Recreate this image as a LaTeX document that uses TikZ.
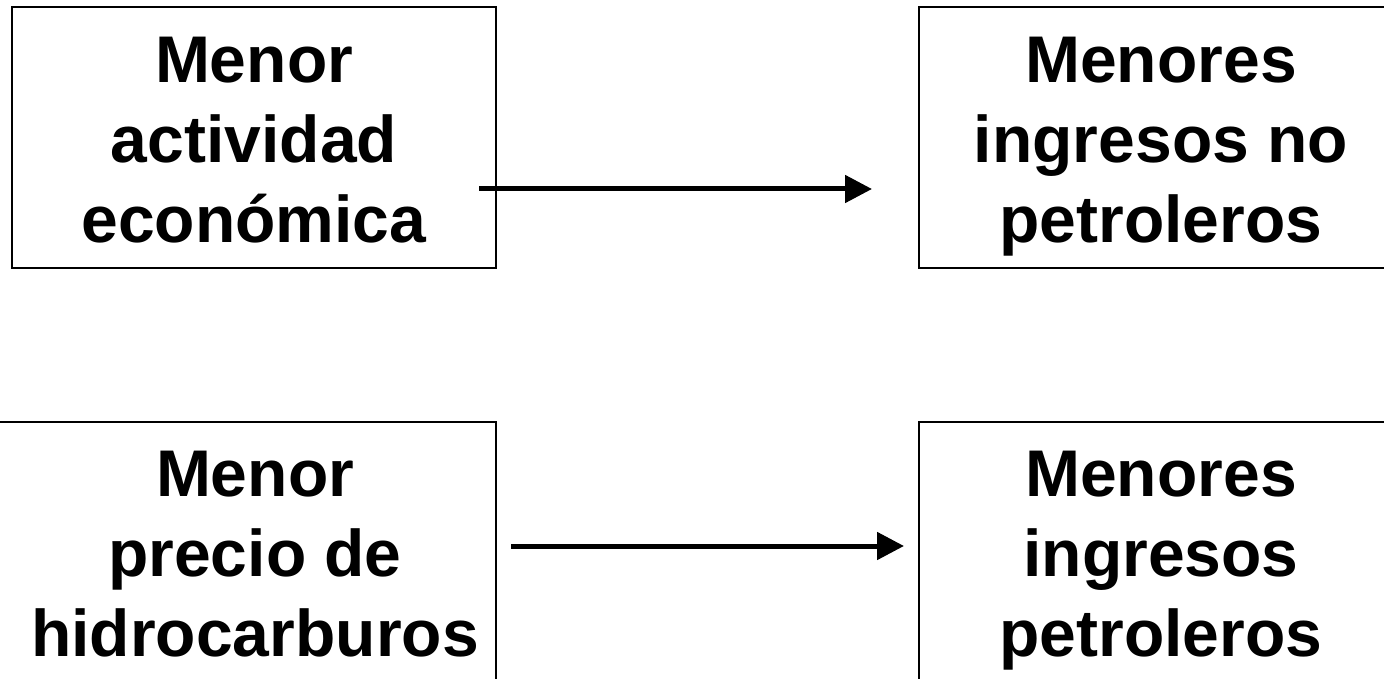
\documentclass[tikz,border=0pt]{standalone}
\usepackage{fontspec}
\setmainfont{Liberation Sans}
\usetikzlibrary{arrows.meta}
\begin{document}
\begin{tikzpicture}[x=1pt,y=-1pt,
  box/.style={draw, line width=2pt, inner sep=0pt},
  lbl/.style={align=center, font=\bfseries\fontsize{66}{80}\selectfont, inner sep=0pt},
  arr/.style={line width=5pt, -{Triangle[length=27pt,width=27pt]}}]
\useasboundingbox (0,0) rectangle (1384,679);
\clip (0,0) rectangle (1384,679);
\node[box, minimum width=484pt, minimum height=261pt] (b1) at (254,137.5) {};
\node[box, minimum width=484pt, minimum height=261pt] (b2) at (1161,137.5) {};
\node[box, minimum width=516pt, minimum height=278pt] (b3) at (238,561) {};
\node[box, minimum width=484pt, minimum height=278pt] (b4) at (1161,561) {};
\node[lbl] (t1) at (254,145) {\rule{0pt}{48pt}Menor\\actividad\\económica\rule[-14pt]{0pt}{14pt}};
\node[lbl] (t2) at (1161,145) {\rule{0pt}{48pt}Menores\\ingresos no\\petroleros\rule[-14pt]{0pt}{14pt}};
\node[lbl] (t3) at (255,559) {\rule{0pt}{48pt}Menor\\precio de\\hidrocarburos\rule[-14pt]{0pt}{14pt}};
\node[lbl] (t4) at (1161,559) {\rule{0pt}{48pt}Menores\\ingresos\\petroleros\rule[-14pt]{0pt}{14pt}};
\coordinate (a1s) at (479,189);
\coordinate (a1e) at (872,189);
\coordinate (a2s) at (511,546);
\coordinate (a2e) at (904,546);
\draw[arr] (a1s) -- (a1e);
\draw[arr] (a2s) -- (a2e);
\end{tikzpicture}
\end{document}
